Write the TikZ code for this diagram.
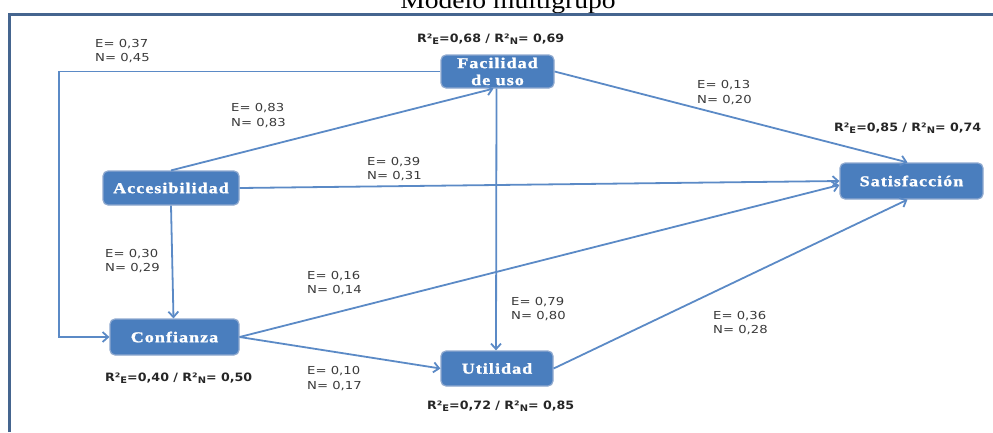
\documentclass[tikz,border=0pt]{standalone}
\usepackage{fontspec}
\setmainfont{Liberation Serif}
\newfontfamily\lblfont[FakeStretch=1.2]{DejaVu Sans}
\newfontfamily\rlblfont[FakeStretch=1.1]{DejaVu Sans}
\newfontfamily\nodefont[FakeStretch=1.2,LetterSpace=7,FakeBold=1.5]{Liberation Serif}
\newfontfamily\titlefont[FakeStretch=1.15]{Liberation Serif}
\usetikzlibrary{arrows.meta}
\definecolor{boxfill}{HTML}{4A7EBE}
\definecolor{boxedge}{HTML}{8FA9CF}
\definecolor{edgecol}{HTML}{5B8AC6}
\definecolor{framecol}{HTML}{45658F}
\definecolor{lblcol}{HTML}{3A3A3A}
\tikzset{
  box/.style={rectangle, rounded corners=5pt, fill=boxfill, draw=boxedge, line width=1.2pt,
    text=white, font=\nodefont\bfseries\fontsize{15}{17}\selectfont, inner sep=0pt, align=center},
  conn/.style={draw=edgecol, line width=1.8pt, -{Straight Barb[length=5.5pt,width=10pt]}},
  lbl/.style={font=\lblfont\fontsize{11}{14.5}\selectfont, text=lblcol, align=left, anchor=west, inner sep=0pt},
  rlbl/.style={font=\rlblfont\bfseries\fontsize{11.5}{13}\selectfont, text=black!85, anchor=west, inner sep=0pt}
}
\newcommand{\lowsub}[1]{\raisebox{-0.35ex}{\fontsize{9}{9}\selectfont #1}}
\begin{document}
\begin{tikzpicture}[x=1pt,y=-1pt]
\useasboundingbox (0,0) rectangle (993,432);
% title and frame
\node[font=\titlefont\fontsize{24}{26}\selectfont, anchor=base, inner sep=0pt] (title) at (508,8.5) {Modelo multigrupo};
\draw[framecol, line width=3pt] (9,432) -- (9,14) -- (993,14);
% nodes
\node[box, minimum width=113pt, minimum height=33pt] (fac) at (497.5,71.5) {Facilidad\\de uso};
\node[box, minimum width=136pt, minimum height=34pt] (acc) at (171,188) {Accesibilidad};
\node[box, minimum width=143pt, minimum height=36pt] (sat) at (911.5,181) {Satisfacción};
\node[box, minimum width=129pt, minimum height=36pt] (conf) at (174.5,337) {Confianza};
\node[box, minimum width=112pt, minimum height=35pt] (util) at (497,368.5) {Utilidad};
% connectors
\coordinate (c1) at (59,71.5);
\draw[conn] (fac.west) -- (c1) |- (conf.west);
\draw[conn] (acc.north) -- ([xshift=-4pt]fac.south);
\draw[conn] ([xshift=-1pt]fac.south) -- ([xshift=-1pt]util.north);
\draw[conn] (fac.east) -- ([xshift=-4pt]sat.north);
\draw[conn] (acc.east) -- (sat.west);
\draw[conn] (acc.south) -- ([xshift=-1pt]conf.north);
\draw[conn] (conf.east) -- ([yshift=-4pt]sat.west);
\draw[conn] (conf.east) -- (util.west);
\draw[conn] (util.east) -- ([xshift=-4pt]sat.south);
% labels
\node[lbl] (l1) at (95,51) {E= 0,37\\N= 0,45};
\node[lbl] (l2) at (231,115.5) {E= 0,83\\N= 0,83};
\node[lbl] (l3) at (697,92.5) {E= 0,13\\N= 0,20};
\node[lbl] (l4) at (367,169) {E= 0,39\\N= 0,31};
\node[lbl] (l5) at (105,261) {E= 0,30\\N= 0,29};
\node[lbl] (l6) at (307,283) {E= 0,16\\N= 0,14};
\node[lbl] (l7) at (511,309) {E= 0,79\\N= 0,80};
\node[lbl] (l8) at (713,323) {E= 0,36\\N= 0,28};
\node[lbl] (l9) at (307,378.5) {E= 0,10\\N= 0,17};
\node[rlbl] (r1) at (417,39) {R²\lowsub{E}=0,68 / R²\lowsub{N}= 0,69};
\node[rlbl] (r2) at (834,128) {R²\lowsub{E}=0,85 / R²\lowsub{N}= 0,74};
\node[rlbl] (r3) at (105,378) {R²\lowsub{E}=0,40 / R²\lowsub{N}= 0,50};
\node[rlbl] (r4) at (427,406) {R²\lowsub{E}=0,72 / R²\lowsub{N}= 0,85};
\end{tikzpicture}
\end{document}
